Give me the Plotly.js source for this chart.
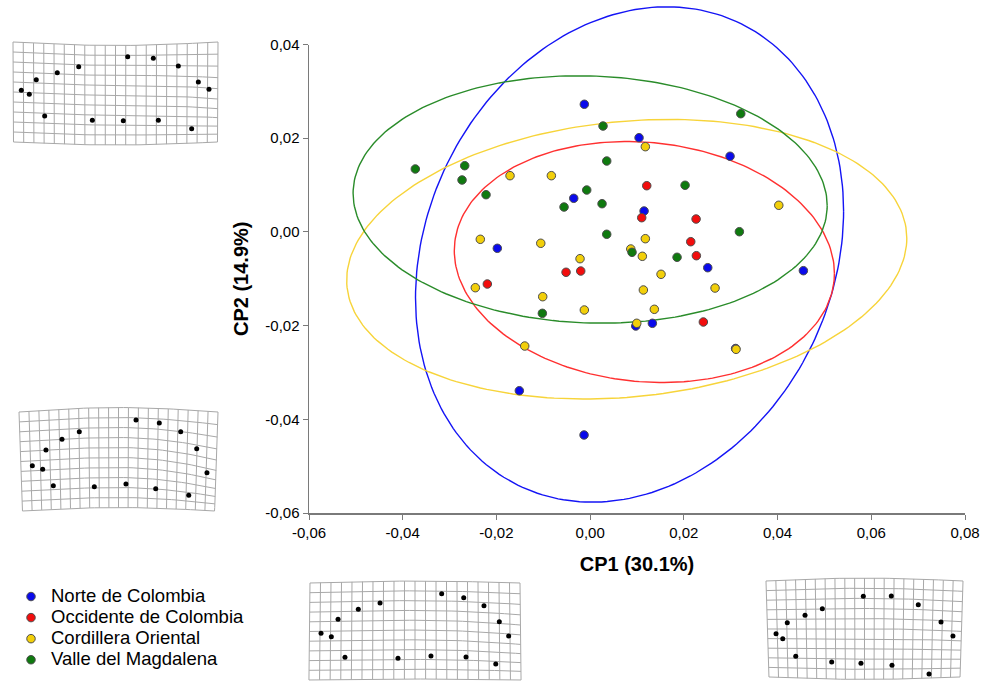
<!DOCTYPE html>
<html>
<head>
<meta charset="utf-8">
<script src="https://cdn.plot.ly/plotly-3.0.1.min.js"></script>
<style>html,body{margin:0;padding:0;background:#fff;}#chart{width:984px;height:681px;}</style>
</head>
<body>
<div id="chart"></div>
<script>
// ---------- data ----------
const groupNames = ['Norte de Colombia', 'Occidente de Colombia', 'Cordillera Oriental', 'Valle del Magdalena'];

const norteX = [-0.00124, 0.01044, 0.02986, -0.0035, 0.01151, -0.01981, 0.0251, 0.04551, 0.00973, 0.01328, -0.01511, -0.0013, 0.03104];
const norteY = [0.02724, 0.02011, 0.01614, 0.00717, 0.00446, -0.0035, -0.00764, -0.00828, -0.02009, -0.01951, -0.0339, -0.04335, -0.02489];

const occidenteX = [0.01208, 0.01101, 0.02261, 0.02147, 0.02267, -0.00514, -0.00201, -0.02194, 0.02416];
const occidenteY = [0.00986, 0.00303, 0.00275, -0.00209, -0.00508, -0.00862, -0.00835, -0.01112, -0.01923];

const cordilleraX = [0.01178, -0.0171, -0.00828, -0.02344, -0.01054, 0.00867, 0.01178, 0.01114, -0.00216, 0.01513, 0.02666, 0.01136, 0.0137, 0.00995, 0.03114, -0.0245, -0.01012, -0.00124, -0.01396, 0.04026, 0.08252];
const cordilleraY = [0.01819, 0.012, 0.012, -0.00158, -0.00243, -0.00365, -0.00145, -0.00521, -0.00572, -0.00905, -0.01198, -0.0124, -0.01652, -0.01951, -0.02506, -0.01191, -0.01383, -0.01667, -0.02436, 0.00568, 0.00995];

const magdalenaX = [0.00275, 0.03215, -0.03731, -0.02677, -0.02734, -0.02222, -0.00073, -0.00557, 0.00254, 0.00354, 0.02026, 0.00354, 0.00894, 0.03185, 0.01855, -0.0102];
const magdalenaY = [0.0226, 0.02523, 0.01343, 0.01413, 0.01108, 0.00794, 0.00894, 0.00531, 0.00602, 0.01513, 0.00995, -0.00051, -0.00436, 0.00004, -0.00542, -0.01738];

// confidence ellipses (centre, half-extent along x and y, correlation), order as groupNames
const ellipseCX = [0.00841, 0.01157, 0.00781, 0.0];
const ellipseCY = [-0.00482, -0.00643, -0.00583, 0.00692];
const ellipseRX = [0.04568, 0.04056, 0.05977, 0.05059];
const ellipseRY = [0.05287, 0.02572, 0.02984, 0.02641];
const ellipseRho = [0.175, -0.094, 0.15, -0.05];

const xTickVals = [-0.06, -0.04, -0.02, 0, 0.02, 0.04, 0.06, 0.08];
const xTickText = ['-0,06', '-0,04', '-0,02', '0,00', '0,02', '0,04', '0,06', '0,08'];
const yTickVals = [-0.06, -0.04, -0.02, 0, 0.02, 0.04];
const yTickText = ['-0,06', '-0,04', '-0,02', '0,00', '0,02', '0,04'];

// landmark configurations of the deformation grids (grid-cell units, 20 x 10 frame)
const lm1X = [0.81, 1.59, 2.27, 4.32, 6.41, 11.19, 13.69, 16.13, 18.08, 19.12, 17.43, 14.18, 10.76, 7.74, 3.09];
const lm1Y = [4.83, 5.23, 3.77, 3.07, 2.47, 1.47, 1.63, 2.40, 4.00, 4.73, 8.67, 7.83, 7.87, 7.83, 7.40];
const lm2X = [1.34, 2.38, 2.71, 4.32, 6.06, 11.76, 14.10, 16.25, 17.86, 18.89, 17.06, 13.74, 10.75, 7.57, 3.45];
const lm2Y = [5.42, 5.79, 3.84, 2.76, 1.99, 0.81, 1.11, 1.99, 3.71, 6.13, 8.41, 7.75, 7.27, 7.55, 7.44];
const lm3X = [1.05, 2.03, 2.67, 4.60, 6.67, 12.54, 14.64, 16.57, 18.03, 18.92, 17.69, 14.86, 11.52, 8.38, 3.33];
const lm3Y = [5.19, 5.54, 3.74, 2.71, 2.06, 1.10, 1.52, 2.34, 3.99, 5.46, 8.35, 7.63, 7.53, 7.76, 7.66];
const lm4X = [1.02, 1.70, 2.16, 3.96, 5.72, 9.88, 12.72, 15.46, 17.77, 18.98, 16.55, 12.79, 9.64, 6.67, 3.02];
const lm4Y = [5.49, 6.01, 4.34, 3.57, 2.89, 1.59, 1.56, 2.47, 4.27, 5.73, 9.69, 8.78, 8.57, 8.44, 7.84];

// ---------- styling / layout ----------
const FONT = 'Liberation Sans, Arial, Helvetica, sans-serif';
const W = 984, H = 681;
const markerColors = ['#0a0aeb', '#f20d0d', '#f2cf0a', '#0f7a0f'];
const ellipseColors = ['#1414f5', '#ff3030', '#f7d43a', '#2a8c2a'];
const groupX = [norteX, occidenteX, cordilleraX, magdalenaX];
const groupY = [norteY, occidenteY, cordilleraY, magdalenaY];

// plot area in pixels
const plotL = 309, plotR = 965, plotT = 44.5, plotB = 513;
const yRange = [-0.06, 0.04];
const pxPerUnit = (plotB - plotT) / (yRange[1] - yRange[0]);
const yTopExt = yRange[1] + plotT / pxPerUnit;

const traces = [];

// ellipses (drawn first, beneath points)
for (let g = 0; g < 4; g++) {
  const xs = [], ys = [];
  const s = Math.sqrt(1 - ellipseRho[g] * ellipseRho[g]);
  for (let k = 0; k <= 240; k++) {
    const t = 2 * Math.PI * k / 240;
    xs.push(ellipseCX[g] + ellipseRX[g] * Math.cos(t));
    ys.push(ellipseCY[g] + ellipseRY[g] * (ellipseRho[g] * Math.cos(t) + s * Math.sin(t)));
  }
  traces.push({
    type: 'scatter', mode: 'lines', x: xs, y: ys, xaxis: 'x', yaxis: 'y',
    line: {color: ellipseColors[g], width: 1.4}, showlegend: false, hoverinfo: 'skip'
  });
}

// points
for (let g = 0; g < 4; g++) {
  traces.push({
    type: 'scatter', mode: 'markers',
    name: '<span style="font-size:18.5px">' + groupNames[g] + '</span>',
    x: groupX[g], y: groupY[g], xaxis: 'x', yaxis: 'y',
    marker: {color: markerColors[g], size: 8.5, line: {color: '#4d4d4d', width: 1}},
    cliponaxis: false
  });
}

// empty trace to create the visible y-axis subplot
traces.push({type: 'scatter', mode: 'markers', x: [], y: [], xaxis: 'x', yaxis: 'y2', showlegend: false, hoverinfo: 'skip'});

// deformation grids
const thumbBoxes = [
  {x0: 13, x1: 218, y0: 42, y1: 142},
  {x0: 19, x1: 218, y0: 412, y1: 511},
  {x0: 310, x1: 520, y0: 583, y1: 680},
  {x0: 766, x1: 963, y0: 581, y1: 677}
];
// warp shape: [top bow, bottom bow, right droop, taper]
const thumbWarp = [
  [0.35, 0.3, 0.7, 0.05],
  [-0.45, -0.35, 0.9, 0.35],
  [-0.2, -0.1, 0.35, -0.1],
  [-0.3, 0.25, 0.25, 0.3]
];
const lmX = [lm1X, lm2X, lm3X, lm4X];
const lmY = [lm1Y, lm2Y, lm3Y, lm4Y];
const NC = 20, NR = 10;

function warp(i, j, p) {
  const u = i / NC, v = j / NR;
  const dy = p[0] * Math.sin(Math.PI * u) * (1 - v) + p[1] * Math.sin(Math.PI * u) * v
           + p[2] * Math.pow(Math.max(0, 2 * u - 1), 2) * Math.sin(Math.PI * v);
  const dx = p[3] * v * (1 - 2 * u);
  return [i + dx, j + dy];
}

const layout = {
  width: W, height: H,
  margin: {l: 0, r: 0, t: 0, b: 0, autoexpand: false},
  paper_bgcolor: '#ffffff', plot_bgcolor: 'rgba(0,0,0,0)',
  font: {family: FONT, color: '#000'},
  showlegend: true,
  legend: {
    x: 11 / W, y: 1 - 581 / H, xanchor: 'left', yanchor: 'top',
    font: {family: FONT, size: 13.9, color: '#000'},
    bgcolor: 'rgba(0,0,0,0)', tracegroupgap: 0, itemwidth: 30
  },
  xaxis: {
    domain: [plotL / W, plotR / W], range: [-0.06, 0.08], anchor: 'y2',
    tickvals: xTickVals, ticktext: xTickText,
    ticks: 'outside', ticklen: 5, tickwidth: 1, tickcolor: '#7a7a7a',
    showline: true, linecolor: '#7a7a7a', linewidth: 1.5,
    showgrid: false, zeroline: false, fixedrange: true, automargin: false,
    tickfont: {family: FONT, size: 15, color: '#000'},
    title: {text: 'CP1 (30.1%)', font: {family: FONT, size: 20, color: '#000', weight: 700}, standoff: 17}
  },
  yaxis: {
    domain: [1 - plotB / H, 1], range: [yRange[0], yTopExt],
    anchor: 'x', visible: false, fixedrange: true
  },
  yaxis2: {
    domain: [1 - plotB / H, 1 - plotT / H], range: yRange, anchor: 'x',
    tickvals: yTickVals, ticktext: yTickText,
    ticks: 'outside', ticklen: 5, tickwidth: 1, tickcolor: '#7a7a7a',
    showline: true, linecolor: '#7a7a7a', linewidth: 1.5,
    showgrid: false, zeroline: false, fixedrange: true, automargin: false,
    tickfont: {family: FONT, size: 15, color: '#000'},
    title: {text: 'CP2 (14.9%)', font: {family: FONT, size: 20, color: '#000', weight: 700}, standoff: 11}
  }
};

for (let b = 0; b < 4; b++) {
  const box = thumbBoxes[b];
  const cw = (box.x1 - box.x0) / NC, ch = (box.y1 - box.y0) / NR;
  const pad = 1.2;
  const xa = 'xaxis' + (b + 3), ya = 'yaxis' + (b + 3);
  const xs = 'x' + (b + 3), ys = 'y' + (b + 3);
  const d0 = Math.max(0, 1 - (box.y1 + pad * ch) / H);
  const padB = (1 - d0) * H - box.y1; // actual pixel padding below
  layout[xa] = {domain: [(box.x0 - pad * cw) / W, (box.x1 + pad * cw) / W], range: [-pad, NC + pad], anchor: ys, visible: false, fixedrange: true};
  layout[ya] = {domain: [d0, 1 - (box.y0 - pad * ch) / H], range: [NR + padB / ch, -pad], anchor: xs, visible: false, fixedrange: true};
  const gx = [], gy = [];
  for (let j = 0; j <= NR; j++) {
    for (let i = 0; i <= NC; i += 0.5) { const q = warp(i, j, thumbWarp[b]); gx.push(q[0]); gy.push(q[1]); }
    gx.push(null); gy.push(null);
  }
  for (let i = 0; i <= NC; i++) {
    for (let j = 0; j <= NR; j += 0.5) { const q = warp(i, j, thumbWarp[b]); gx.push(q[0]); gy.push(q[1]); }
    gx.push(null); gy.push(null);
  }
  traces.push({type: 'scatter', mode: 'lines', x: gx, y: gy, xaxis: xs, yaxis: ys,
    line: {color: '#a8a8a8', width: 1}, showlegend: false, hoverinfo: 'skip', connectgaps: false});
  traces.push({type: 'scatter', mode: 'markers', x: lmX[b], y: lmY[b], xaxis: xs, yaxis: ys,
    marker: {color: '#000', size: 5}, showlegend: false, hoverinfo: 'skip'});
}

Plotly.newPlot('chart', traces, layout, {staticPlot: true, displayModeBar: false});
</script>
</body>
</html>
